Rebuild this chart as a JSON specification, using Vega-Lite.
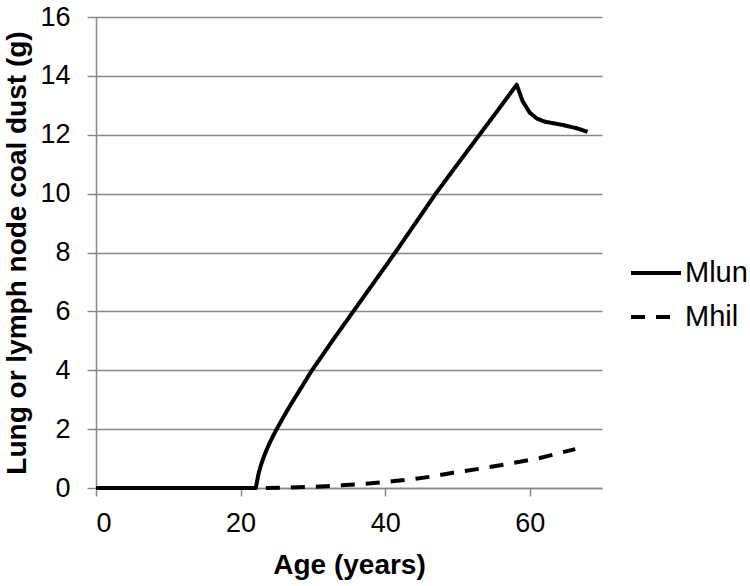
{
  "$schema": "https://vega.github.io/schema/vega-lite/v6.json",
  "autosize": {"type": "none"},
  "padding": {"left": 96, "top": 17, "right": 148, "bottom": 98},
  "width": 506,
  "height": 471,
  "background": "white",
  "config": {
    "view": {"stroke": null},
    "font": "Liberation Sans"
  },
  "data": {
    "values": [
      {"age": 0, "value": 0, "series": "Mlun"},
      {"age": 22.1, "value": 0, "series": "Mlun"},
      {"age": 22.3, "value": 0.25, "series": "Mlun"},
      {"age": 22.5, "value": 0.5, "series": "Mlun"},
      {"age": 22.8, "value": 0.76, "series": "Mlun"},
      {"age": 23.1, "value": 0.98, "series": "Mlun"},
      {"age": 23.5, "value": 1.24, "series": "Mlun"},
      {"age": 24, "value": 1.52, "series": "Mlun"},
      {"age": 24.5, "value": 1.77, "series": "Mlun"},
      {"age": 25, "value": 2.0, "series": "Mlun"},
      {"age": 26, "value": 2.44, "series": "Mlun"},
      {"age": 27, "value": 2.86, "series": "Mlun"},
      {"age": 28.5, "value": 3.45, "series": "Mlun"},
      {"age": 29.8, "value": 3.97, "series": "Mlun"},
      {"age": 32.7, "value": 5.0, "series": "Mlun"},
      {"age": 35.6, "value": 6.0, "series": "Mlun"},
      {"age": 38.5, "value": 7.0, "series": "Mlun"},
      {"age": 41.4, "value": 8.0, "series": "Mlun"},
      {"age": 44.2, "value": 9.0, "series": "Mlun"},
      {"age": 47, "value": 10.0, "series": "Mlun"},
      {"age": 49.8, "value": 10.93, "series": "Mlun"},
      {"age": 52.6, "value": 11.85, "series": "Mlun"},
      {"age": 55.4, "value": 12.77, "series": "Mlun"},
      {"age": 58.2, "value": 13.7, "series": "Mlun"},
      {"age": 59, "value": 13.15, "series": "Mlun"},
      {"age": 60, "value": 12.75, "series": "Mlun"},
      {"age": 61, "value": 12.55, "series": "Mlun"},
      {"age": 62, "value": 12.45, "series": "Mlun"},
      {"age": 64.6, "value": 12.33, "series": "Mlun"},
      {"age": 66.5, "value": 12.22, "series": "Mlun"},
      {"age": 68, "value": 12.1, "series": "Mlun"},
      {"age": 23.5, "value": 0, "series": "Mhil"},
      {"age": 26, "value": 0.01, "series": "Mhil"},
      {"age": 30, "value": 0.04, "series": "Mhil"},
      {"age": 34, "value": 0.09, "series": "Mhil"},
      {"age": 38, "value": 0.16, "series": "Mhil"},
      {"age": 41, "value": 0.23, "series": "Mhil"},
      {"age": 44, "value": 0.31, "series": "Mhil"},
      {"age": 46.2, "value": 0.38, "series": "Mhil"},
      {"age": 49.4, "value": 0.52, "series": "Mhil"},
      {"age": 53.5, "value": 0.67, "series": "Mhil"},
      {"age": 57.5, "value": 0.84, "series": "Mhil"},
      {"age": 61.4, "value": 1.02, "series": "Mhil"},
      {"age": 65.3, "value": 1.26, "series": "Mhil"},
      {"age": 66.3, "value": 1.32, "series": "Mhil"}
    ]
  },
  "mark": {"type": "line", "color": "black", "strokeWidth": 4, "strokeCap": "butt", "strokeJoin": "round"},
  "encoding": {
    "x": {
      "field": "age", "type": "quantitative",
      "scale": {"domain": [0, 70], "nice": false},
      "axis": {
        "values": [0, 20, 40, 60], "grid": false,
        "domainColor": "#888888", "domainWidth": 1.5,
        "tickColor": "#888888", "tickWidth": 1.5, "tickSize": 8,
        "labelFontSize": 27, "labelColor": "black", "labelPadding": 14,
        "labelFont": "Liberation Sans",
        "title": "Age (years)", "titleFontSize": 28, "titleFontWeight": "bold",
        "titleColor": "black", "titlePadding": 15, "titleFont": "Liberation Sans"
      }
    },
    "y": {
      "field": "value", "type": "quantitative",
      "scale": {"domain": [0, 16], "nice": false},
      "axis": {
        "values": [0, 2, 4, 6, 8, 10, 12, 14, 16], "grid": true,
        "gridColor": "#888888", "gridWidth": 1.5,
        "domainColor": "#888888", "domainWidth": 1.5,
        "tickColor": "#888888", "tickWidth": 1.5, "tickSize": 9,
        "labelFontSize": 27, "labelColor": "black", "labelPadding": 17,
        "labelFont": "Liberation Sans",
        "title": "Lung or lymph node coal dust (g)", "titleFontSize": 28, "titleFontWeight": "bold",
        "titleColor": "black", "titlePadding": 8, "titleFont": "Liberation Sans"
      }
    },
    "strokeDash": {
      "field": "series", "type": "nominal",
      "scale": {"domain": ["Mlun", "Mhil"], "range": [[1, 0], [14, 11]]},
      "legend": {
        "title": null, "orient": "none", "legendX": 533, "legendY": 229,
        "symbolType": "stroke", "symbolSize": 2500, "symbolStrokeWidth": 4,
        "symbolStrokeColor": "black",
        "labelFontSize": 29, "labelColor": "black", "labelFont": "Liberation Sans",
        "labelOffset": 2, "rowPadding": 2
      }
    }
  }
}
